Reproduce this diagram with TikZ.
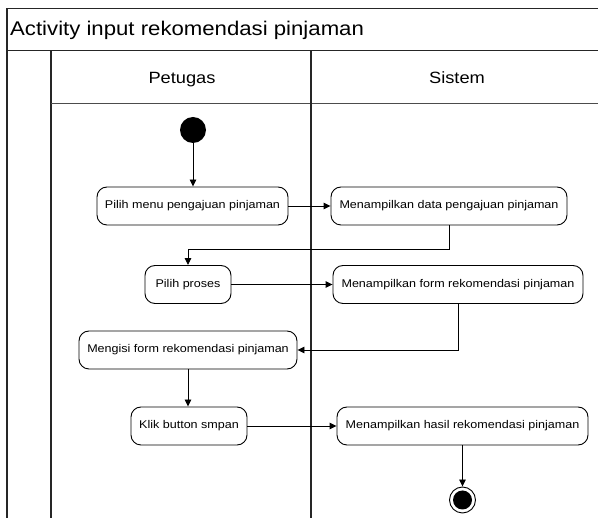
\documentclass[tikz,border=0pt]{standalone}
\usepackage{fontspec}
\setmainfont{Liberation Sans}[FakeStretch=1.12]
\usetikzlibrary{arrows.meta}
\begin{document}
\begin{tikzpicture}[x=1pt,y=-1pt,
  act/.style={draw, rounded corners=10pt, line width=0.9pt, minimum height=38pt, inner sep=0pt, font=\fontsize{11.2}{13}\selectfont},
  arr/.style={-{Triangle[length=7pt,width=6.5pt]}, line width=0.9pt},
  frame/.style={line width=1.3pt, draw=black!85},
  lane/.style={line width=1.1pt, draw=black!70}]
\useasboundingbox (0,0) rectangle (598,518);
\begin{scope}
\clip (0,0) rectangle (598,518);
\draw[frame] (7,540) -- (7,8.5) -- (620,8.5);
\draw[frame] (7,50.5) -- (620,50.5);
\draw[frame] (51,50.5) -- (51,540);
\draw[lane] (51,103.5) -- (620,103.5);
\draw[frame] (311,50.5) -- (311,540);
\end{scope}
\node[anchor=base west, inner sep=0, font=\fontsize{19.8}{22}\selectfont] (title) at (10,36) {Activity input rekomendasi pinjaman};
\node[anchor=base, inner sep=0, font=\fontsize{16.3}{18}\selectfont] (h1) at (182,83.3) {Petugas};
\node[anchor=base, inner sep=0, font=\fontsize{16.3}{18}\selectfont] (h2) at (457,83.3) {Sistem};

\node[circle, fill=black, minimum size=26pt, inner sep=0pt] (start) at (193,130) {};
\node[act, minimum width=191pt] (b1) at (192.5,206) {Pilih menu pengajuan pinjaman};
\node[act, minimum width=236pt] (b2) at (449,206) {Menampilkan data pengajuan pinjaman};
\node[act, minimum width=86pt] (b3) at (188,284.5) {Pilih proses};
\node[act, minimum width=250pt] (b4) at (458,284.5) {Menampilkan form rekomendasi pinjaman};
\node[act, minimum width=218pt] (b5) at (188,350) {Mengisi form rekomendasi pinjaman};
\node[act, minimum width=116pt] (b6) at (189,426) {Klik button smpan};
\node[act, minimum width=251pt] (b7) at (462.5,426) {Menampilkan hasil rekomendasi pinjaman};
\node[circle, draw, line width=0.9pt, minimum size=26pt, inner sep=0pt] (end) at (462.5,500) {};
\node[circle, fill=black, minimum size=19pt, inner sep=0pt] (endin) at (end) {};

\draw[arr] (start) -- (start |- b1.north);
\draw[arr] (b1) -- (b2);
\draw[arr] (b2.south) -- ++(0,24) -| (b3.north);
\draw[arr] (b3) -- (b4);
\draw[arr] (b4.south) |- (b5.east);
\draw[arr] (b5.south) -- (b5.south |- b6.north);
\draw[arr] (b6) -- (b7);
\draw[arr] (b7) -- (end);
\end{tikzpicture}
\end{document}
